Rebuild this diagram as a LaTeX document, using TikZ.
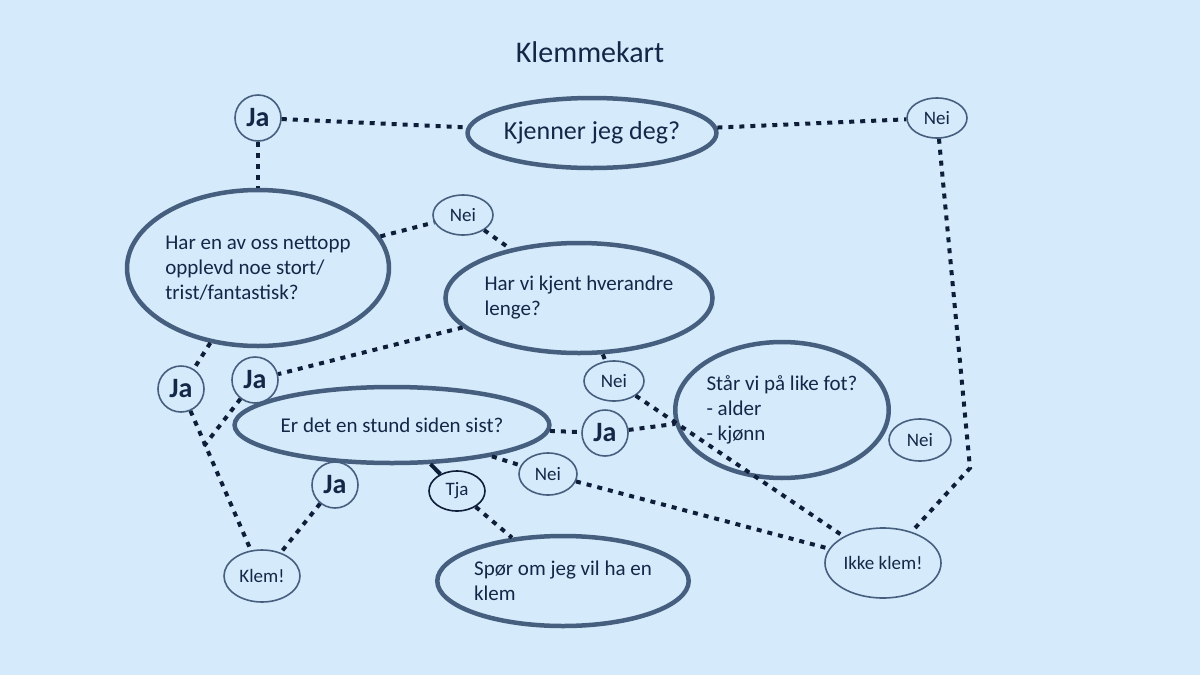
\documentclass[tikz,border=0pt]{standalone}
\usepackage{fontspec}
\setmainfont{Carlito}
\usetikzlibrary{shapes.geometric}
\definecolor{bg}{HTML}{D5EAFB}
\definecolor{rim}{HTML}{465F7E}
\definecolor{ink}{HTML}{132847}
\definecolor{dots}{HTML}{0F1E38}
\begin{document}
\begin{tikzpicture}[x=1pt,y=-1pt,
  big/.style={ellipse,draw=rim,line width=4.5pt,fill=bg,inner sep=0pt,text=ink,font=\fontsize{21}{25}\selectfont,align=left},
  small/.style={ellipse,draw=rim,line width=1.6pt,fill=bg,inner sep=0pt,text=ink,font=\fontsize{19}{22}\selectfont},
  ja/.style={circle,draw=rim,line width=1.6pt,fill=bg,inner sep=0pt,minimum size=46pt,text=ink,font=\fontsize{28}{30}\selectfont\bfseries},
  link/.style={draw=dots,line width=4pt,dash pattern=on 5pt off 6pt}]
\fill[bg] (0,0) rectangle (1200,675);
\useasboundingbox (0,0) rectangle (1200,675);
\node[text=ink,font=\fontsize{30}{34}\selectfont] (title) at (590,52) {Klemmekart};
% nodes
\node[ja] (ja1) at (258,118) {Ja};
\node[big,minimum width=210pt,minimum height=70pt,font=\fontsize{26}{30}\selectfont] (kj) at (592,133) {Kjenner jeg deg?};
\node[small,minimum width=60pt,minimum height=40pt] (nei1) at (937,118) {Nei};
\node[big,minimum width=240pt,minimum height=156pt] (har) at (258,268) {Har en av oss nettopp\\opplevd noe stort/\\trist/fantastisk?};
\node[small,minimum width=60pt,minimum height=40pt] (nei2) at (463,215) {Nei};
\node[big,minimum width=230pt,minimum height=110pt] (kjent) at (579,298) {Har vi kjent hverandre\\lenge?};
\node[ja] (ja2) at (181,389) {Ja};
\node[ja] (ja3) at (255,380) {Ja};
\node[big,minimum width=256pt,minimum height=76pt] (stund) at (392,425) {Er det en stund siden sist?};
\node[small,minimum width=60pt,minimum height=40pt] (nei3) at (614,381) {Nei};
\node[ja] (ja4) at (605,433) {Ja};
\node[big,minimum width=210pt,minimum height=136pt] (fot) at (782,410) {Står vi på like fot?\\- alder\\- kjønn};
\node[small,minimum width=62pt,minimum height=42pt] (nei4) at (920,440) {Nei};
\node[ja] (ja5) at (335,485) {Ja};
\node[small,draw=dots,minimum width=56pt,minimum height=40pt] (tja) at (457,491) {Tja};
\node[small,minimum width=58pt,minimum height=42pt] (nei5) at (548,474) {Nei};
\node[small,minimum width=76pt,minimum height=52pt] (klem) at (262,576) {Klem!};
\node[big,minimum width=216pt,minimum height=90pt] (spor) at (563,581) {Spør om jeg vil ha en\\klem};
\node[small,minimum width=116pt,minimum height=70pt] (ikke) at (883,563) {Ikke klem!};
\coordinate (bend) at (970,468);
\coordinate (junc) at (204,446);
% connectors
\begin{scope}[on background layer/.style={}]
\end{scope}
\path[link] (ja1) -- (kj);
\path[link] (kj) -- (nei1);
\path[link] (nei1) -- (bend) -- (ikke);
\path[link] (ja1) -- (har);
\path[link] (har) -- (nei2);
\path[link] (nei2) -- (kjent);
\path[link] (har) -- (ja2);
\path[link] (ja2) -- (klem);
\path[link] (kjent) -- (ja3);
\path[link] (ja3) -- (junc);
\path[link] (kjent) -- (nei3);
\path[link] (nei3) -- (ikke);
\path[link] (stund) -- (ja4);
\path[link] (ja4) -- (fot);
\path[link] (stund) -- (nei5);
\path[link] (nei5) -- (ikke);
\draw[dots,line width=4pt] (stund) -- (tja);
\path[link] (tja) -- (spor);
\path[link] (ja5) -- (klem);
\end{tikzpicture}
\end{document}
